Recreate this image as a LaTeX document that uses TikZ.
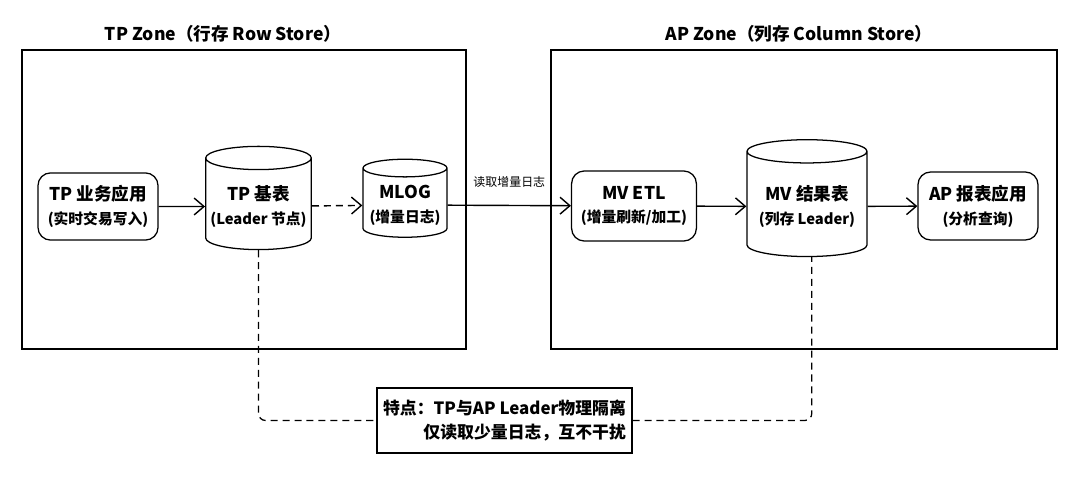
\documentclass[tikz,border=0pt]{standalone}
\usepackage{fontspec}
\setmainfont{Noto Sans CJK SC}
\usepackage{tikz}
\usetikzlibrary{shapes.geometric, arrows.meta, positioning}
\newcommand{\subline}[1]{{\fontsize{10.5}{14}\selectfont #1}}

\begin{document}
\begin{tikzpicture}[x=0.025cm, y=-0.025cm,
	zone/.style={draw, line width=1pt},
	ztitle/.style={font=\fontsize{12.5}{15}\selectfont\bfseries},
	app/.style={draw, line width=0.9pt, rounded corners=9pt, fill=white, align=center, font=\fontsize{12.5}{17}\selectfont\bfseries},
	db/.style={draw, line width=0.9pt, cylinder, shape border rotate=90, aspect=0.22, fill=white, align=center, font=\fontsize{12.5}{17}\selectfont\bfseries},
	flow/.style={-{Straight Barb[length=7pt,width=12pt]}, line width=1pt},
	dashes/.style={dash pattern=on 5pt off 3.5pt},
	link/.style={dashes, line width=0.9pt, rounded corners=5pt}]
	\useasboundingbox (0,0) rectangle (1080,479);
	% zones
	\node[zone, minimum width=11.1cm, minimum height=7.475cm] (tpzone) at (244,199.5) {};
	\node[zone, minimum width=12.65cm, minimum height=7.475cm] (apzone) at (804,199.5) {};
	\node[ztitle] (tptitle) at (223,34) {TP Zone（行存 Row Store）};
	\node[ztitle] (aptitle) at (799,34) {AP Zone（列存 Column Store）};
	% TP side
	\node[app, minimum width=3cm, minimum height=1.68cm] (tpapp) at (98,206.5) {TP 业务应用\\\subline{(实时交易写入)}};
	\node[db, minimum width=2.58cm, minimum height=2.58cm] (tpbase) at (258.5,206.5) {TP 基表\\\subline{(Leader 节点)}};
	\node[db, minimum width=2.1cm, minimum height=1.95cm] (mlog) at (405,205) {MLOG\\\subline{(增量日志)}};
	% AP side
	\node[app, minimum width=3.12cm, minimum height=1.75cm] (mvetl) at (634,206) {MV ETL\\\subline{(增量刷新/加工)}};
	\node[db, minimum width=3cm, minimum height=2.92cm] (mvres) at (807,206.5) {MV 结果表\\\subline{(列存 Leader)}};
	\node[app, minimum width=3cm, minimum height=1.7cm] (apapp) at (978,206) {AP 报表应用\\\subline{(分析查询)}};
	% note
	\node[draw, line width=0.9pt, fill=white, align=right, minimum width=6.37cm, minimum height=1.62cm,
	font=\fontsize{12}{17}\selectfont\bfseries] (note) at (504.5,420.5) {特点：TP与AP Leader物理隔离\\仅读取少量日志，互不干扰};
	% flows
	\draw[flow] (tpapp) -- (tpbase);
	\draw[flow, dashes] (tpbase) -- (mlog);
	\draw[flow] (mlog) -- node[above=9pt, font=\fontsize{8.5}{10}\selectfont] {读取增量日志} (mvetl);
	\draw[flow] (mvetl) -- (mvres);
	\draw[flow] (mvres) -- (apapp);
	\draw[link] (tpbase.south) |- (note.west);
	\draw[link] (note.east) -| ([xshift=0.12cm]mvres.south);
\end{tikzpicture}
\end{document}
